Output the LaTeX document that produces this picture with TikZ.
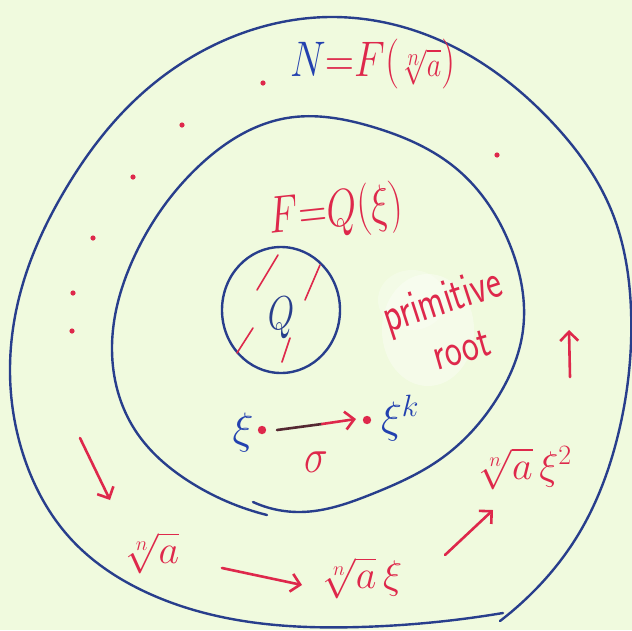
\RequirePackage{fix-cm}
\documentclass[tikz,border=0pt]{standalone}
\usepackage{graphicx}
\usetikzlibrary{arrows.meta,hobby}
\definecolor{bg}{RGB}{240,250,222}
\definecolor{pen}{RGB}{40,62,140}
\definecolor{nblue}{RGB}{35,65,175}
\definecolor{rd}{RGB}{222,40,75}
\definecolor{dk}{RGB}{85,40,50}
\begin{document}
\begin{tikzpicture}[x=1pt,y=-1pt,
  ring/.style={draw=pen, line width=2.4pt, line cap=round, line join=round},
  hatch/.style={draw=rd, line width=1.6pt, line cap=round},
  redarrow/.style={draw=rd, line width=2.6pt, line cap=round, -{Straight Barb[length=9pt,width=18pt,line width=2.6pt]}},
  lbl/.style={inner sep=0pt, outer sep=0pt},
  rdot/.style={fill=rd}]
\fill[bg] (0,0) rectangle (632,630);
\useasboundingbox (0,0) rectangle (632,630);

% white-out smudge
\fill[white, opacity=0.35] (428,330) ellipse (46 and 56);
\fill[white, opacity=0.25] (412,300) ellipse (34 and 30);

% outer ring N
\draw[ring, use Hobby shortcut] (503,613) .. (360,627) .. (250,622) .. (150,594)
 .. (70,538) .. (25,460) .. (10,367) .. (24,280) .. (65,190) .. (135,100)
 .. (225,40) .. (330,17) .. (450,45) .. (550,120) .. (612,212) .. (631,310)
 .. (618,435) .. (578,535) .. (530,595) .. (500,621);

% middle ring F
\draw[ring, use Hobby shortcut] (253,502) .. (300,512) .. (372,494) .. (442,458)
 .. (496,400) .. (523,330) .. (510,245) .. (458,170) .. (373,127) .. (287,118)
 .. (200,165) .. (135,255) .. (112,350) .. (135,430) .. (190,482) .. (267,515);

% inner ring Q
\draw[ring] (281,310) ellipse (59 and 63);
\draw[hatch] (257,290) -- (278,255);
\draw[hatch] (305,300) -- (320,265);
\draw[hatch] (237,353) -- (253,328);
\draw[hatch] (282,362) -- (290,338);

% dots
\foreach \p in {(263,83),(182,125),(133,177),(93,238),(73,293),(72,331),(497,155)}
  \fill[rd] \p circle (2.6);

% labels
\node[lbl] (Nlab) at (373,64) {\fontsize{40}{40}\selectfont\scalebox{1}[1.25]{$\color{nblue}N\color{rd}{=}F({\scriptstyle\sqrt[n]{a}})$}};
\node[lbl, rotate=6] (Flab) at (336,213) {\fontsize{39}{39}\selectfont\scalebox{1}[1.35]{$\color{rd}F{=}Q(\xi)$}};
\node[lbl] (Qlab) at (281,318) {\fontsize{34}{34}\selectfont\scalebox{1}[1.4]{$\color{pen}Q$}};

\node[lbl, rotate=18, text=rd] (prim) at (443,303) {\fontsize{36}{36}\selectfont\sffamily\scalebox{1}[1.35]{primitive}};
\node[lbl, rotate=16, text=rd] (root) at (462,350) {\fontsize{36}{36}\selectfont\sffamily\scalebox{1}[1.3]{root}};

% xi -> xi^k
\node[lbl] (xi) at (243,432) {\fontsize{44}{44}\selectfont$\color{nblue}\xi$};
\fill[rd] (262,430) circle (4.2) coordinate (d1);
\fill[rd] (367,420) circle (4.2) coordinate (d2);
\node[lbl, anchor=west] (xik) at (381,418) {\fontsize{44}{44}\selectfont$\color{nblue}\xi^{k}$};
\coordinate (s1) at (277,430);
\coordinate (sm) at (322,424);
\coordinate (s2) at (356,419);
\draw[dk, line width=2.6pt, line cap=round] (s1) -- (sm);
\draw[redarrow] (sm) -- (s2);
\node[lbl] (sigma) at (316,462) {\fontsize{40}{40}\selectfont\scalebox{1}[1.2]{$\color{rd}\sigma$}};

% bottom chain
\node[lbl] (ra) at (152,553) {\fontsize{40}{40}\selectfont$\color{rd}\sqrt[n]{a}$};
\node[lbl] (raxi) at (362,578) {\fontsize{40}{40}\selectfont$\color{rd}\sqrt[n]{a}\,\xi$};
\node[lbl] (raxi2) at (525,468) {\fontsize{40}{40}\selectfont$\color{rd}\sqrt[n]{a}\,\xi^{2}$};
\coordinate (a1) at (222,568);
\coordinate (a2) at (302,585);
\coordinate (b1) at (445,555);
\coordinate (b2) at (493,510);
\draw[redarrow] (a1) -- (a2);
\draw[redarrow] (b1) -- (b2);

% side arrows
\coordinate (l1) at (80,438);
\coordinate (l2) at (110,500);
\draw[redarrow] (l1) -- (l2);
\coordinate (u1) at (570,377);
\coordinate (u2) at (569,330);
\draw[redarrow] (u1) -- (u2);
\end{tikzpicture}
\end{document}
